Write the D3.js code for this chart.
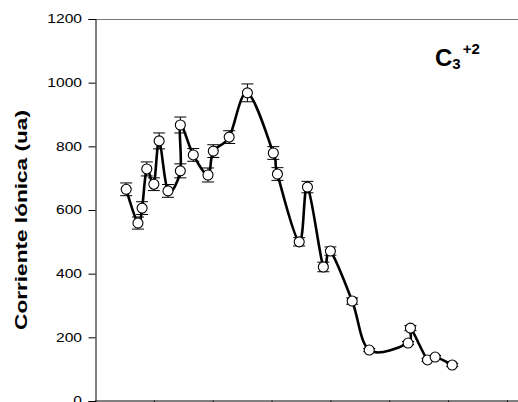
<!DOCTYPE html>
<html><head><meta charset="utf-8">
<script src="https://cdn.jsdelivr.net/npm/d3@7"></script>
<style>body{margin:0;background:#fff}svg{display:block}text{font-family:"Liberation Sans",Arial,sans-serif}</style>
</head><body>
<svg id="c" width="518" height="402"></svg>
<script>
const xPos = [0.53,0.73,0.80,0.88,1.00,1.09,1.24,1.45,1.45,1.67,1.92,2.01,2.28,2.59,3.03,3.10,3.47,3.61,3.88,4.00,4.37,4.66,5.32,5.36,5.65,5.78,6.07];
const values = [665,559,606,729,681,817,660,723,867,773,710,785,829,968,779,713,500,672,421,471,314,160,182,229,129,138,113];
const errors = [20,19,20,22,20,25,20,22,25,20,22,20,20,28,20,20,13,18,15,13,10,5,5,8,5,5,5];
const yTicks = [0,200,400,600,800,1000,1200];
const yLabel = "Corriente Iónica (ua)";

const svg = d3.select("#c");
const x = d3.scaleLinear().domain([0,8]).range([95,95+8*58.85]);
const y = d3.scaleLinear().domain([0,1200]).range([401,19]);

// frame top
svg.append("line").attr("x1",95).attr("x2",600).attr("y1",19.5).attr("y2",19.5)
  .attr("stroke","#777").attr("stroke-width",1);

// x axis
svg.append("g").attr("transform","translate(0,400.5)")
  .call(d3.axisBottom(x).ticks(8).tickFormat("").tickSizeOuter(0).tickSize(6))
  .call(g=>g.selectAll("line,path").attr("stroke","#000"));

// y axis
const ya = svg.append("g").attr("transform","translate(95.5,0)")
  .call(d3.axisLeft(y).tickValues(yTicks).tickFormat("").tickSizeOuter(0).tickSize(7));
ya.selectAll("line,path").attr("stroke","#000");
svg.append("g").selectAll("text").data(yTicks).join("text")
  .attr("transform",d=>`translate(82,${y(d)}) scale(1.3,1)`)
  .attr("text-anchor","end").attr("dy","0.36em")
  .attr("font-size","12px").attr("fill","#000").text(d=>d);

svg.append("text").attr("transform","translate(21,220) rotate(-90) scale(1.33,1)")
  .attr("text-anchor","middle").attr("dy","0.35em")
  .attr("font-size","17px").attr("font-weight","bold").text(yLabel);

// annotation
const t = svg.append("text").attr("x",435).attr("y",66).attr("font-weight","bold");
t.append("tspan").attr("font-size","24px").text("C");
t.append("tspan").attr("font-size","15px").attr("dy",3).text("3");
t.append("tspan").attr("font-size","15px").attr("dy",-15).attr("dx",2).text("+2");

const data = xPos.map((d,i)=>({x:d,v:values[i],e:errors[i]}));

// error bars
const eb = svg.append("g").attr("stroke","#000").attr("stroke-width",1);
data.forEach(d=>{
  const cx = x(d.x);
  eb.append("line").attr("x1",cx).attr("x2",cx).attr("y1",y(d.v-d.e)).attr("y2",y(d.v+d.e));
  eb.append("line").attr("x1",cx-6).attr("x2",cx+6).attr("y1",y(d.v+d.e)).attr("y2",y(d.v+d.e));
  eb.append("line").attr("x1",cx-6).attr("x2",cx+6).attr("y1",y(d.v-d.e)).attr("y2",y(d.v-d.e));
});

// line
svg.append("path").datum(data)
  .attr("d",d3.line().x(d=>x(d.x)).y(d=>y(d.v)).curve(d3.curveCardinal.tension(0)))
  .attr("fill","none").attr("stroke","#000").attr("stroke-width",2.6);

// markers
svg.append("g").selectAll("circle").data(data).join("circle")
  .attr("cx",d=>x(d.x)).attr("cy",d=>y(d.v)).attr("r",5)
  .attr("fill","#fff").attr("stroke","#000").attr("stroke-width",1.1);
</script>
</body></html>
